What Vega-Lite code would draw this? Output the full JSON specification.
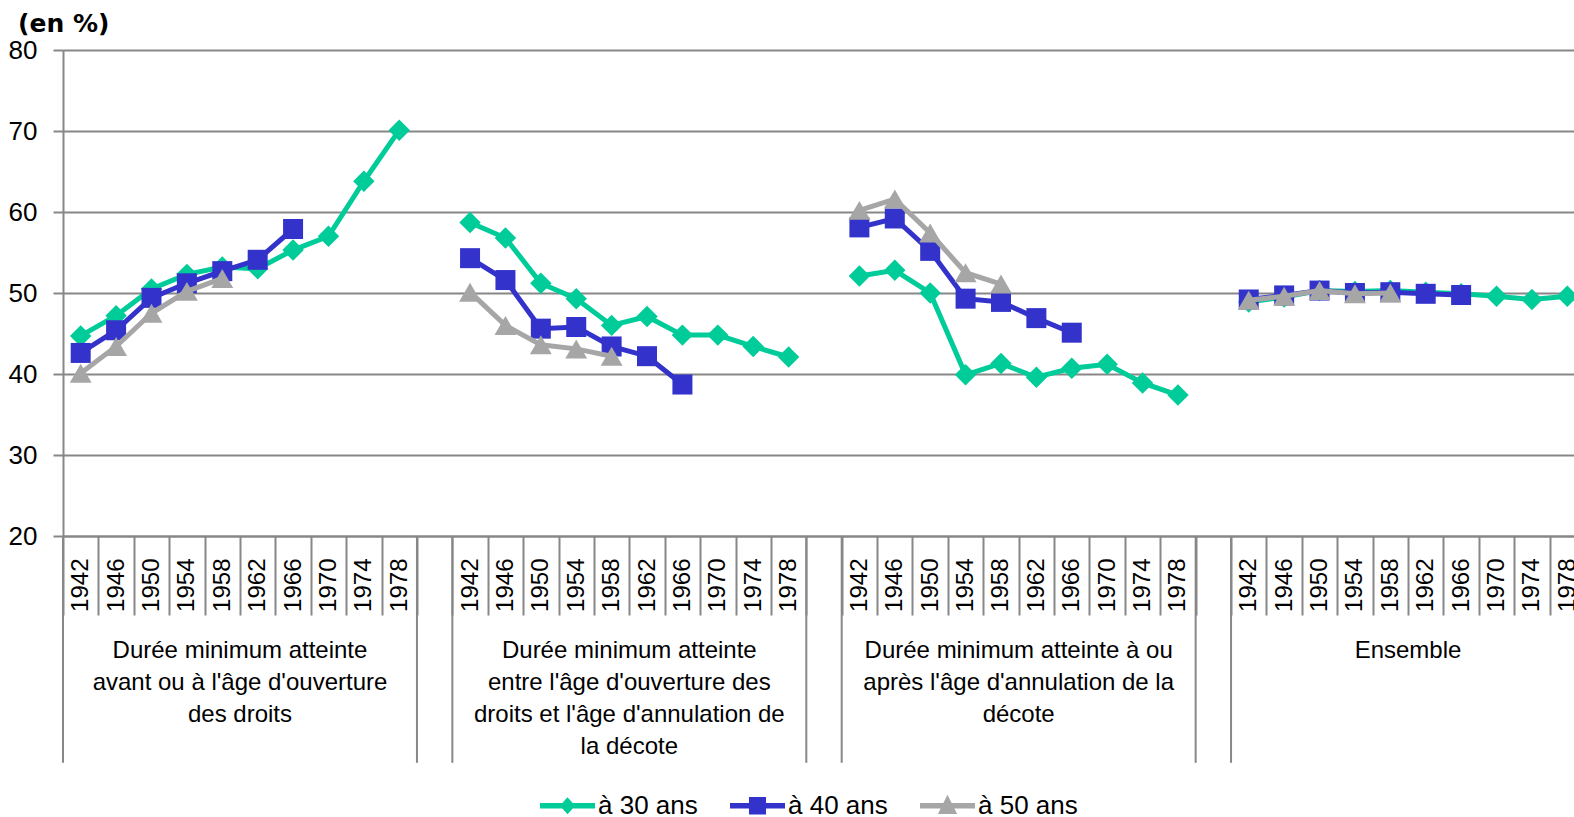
{
  "$schema": "https://vega.github.io/schema/vega-lite/v6.json",
  "width": 1511,
  "height": 486,
  "autosize": {"type": "none"},
  "padding": {"left": 63, "top": 50, "right": 0, "bottom": 281},
  "background": "white",
  "config": {"view": {"stroke": null}, "font": "Liberation Sans"},
  "title": {"text": "(en %)", "anchor": "start", "frame": "group", "dx": -45, "dy": 25, "offset": 5, "font": "DejaVu Sans", "fontSize": 25, "fontWeight": "bold", "color": "black", "baseline": "alphabetic"},
  "datasets": {
    "values": [
      {"cat":"A1942","group":"A","series":"à 30 ans","value":44.7},
      {"cat":"A1946","group":"A","series":"à 30 ans","value":47.2},
      {"cat":"A1950","group":"A","series":"à 30 ans","value":50.5},
      {"cat":"A1954","group":"A","series":"à 30 ans","value":52.3},
      {"cat":"A1958","group":"A","series":"à 30 ans","value":53.2},
      {"cat":"A1962","group":"A","series":"à 30 ans","value":53.0},
      {"cat":"A1966","group":"A","series":"à 30 ans","value":55.3},
      {"cat":"A1970","group":"A","series":"à 30 ans","value":57.0},
      {"cat":"A1974","group":"A","series":"à 30 ans","value":63.8},
      {"cat":"A1978","group":"A","series":"à 30 ans","value":70.1},
      {"cat":"A1942","group":"A","series":"à 40 ans","value":42.6},
      {"cat":"A1946","group":"A","series":"à 40 ans","value":45.4},
      {"cat":"A1950","group":"A","series":"à 40 ans","value":49.4},
      {"cat":"A1954","group":"A","series":"à 40 ans","value":51.2},
      {"cat":"A1958","group":"A","series":"à 40 ans","value":52.7},
      {"cat":"A1962","group":"A","series":"à 40 ans","value":54.1},
      {"cat":"A1966","group":"A","series":"à 40 ans","value":57.9},
      {"cat":"A1942","group":"A","series":"à 50 ans","value":40.1},
      {"cat":"A1946","group":"A","series":"à 50 ans","value":43.4},
      {"cat":"A1950","group":"A","series":"à 50 ans","value":47.5},
      {"cat":"A1954","group":"A","series":"à 50 ans","value":50.2},
      {"cat":"A1958","group":"A","series":"à 50 ans","value":51.8},
      {"cat":"B1942","group":"B","series":"à 30 ans","value":58.7},
      {"cat":"B1946","group":"B","series":"à 30 ans","value":56.8},
      {"cat":"B1950","group":"B","series":"à 30 ans","value":51.2},
      {"cat":"B1954","group":"B","series":"à 30 ans","value":49.3},
      {"cat":"B1958","group":"B","series":"à 30 ans","value":46.0},
      {"cat":"B1962","group":"B","series":"à 30 ans","value":47.1},
      {"cat":"B1966","group":"B","series":"à 30 ans","value":44.8},
      {"cat":"B1970","group":"B","series":"à 30 ans","value":44.8},
      {"cat":"B1974","group":"B","series":"à 30 ans","value":43.4},
      {"cat":"B1978","group":"B","series":"à 30 ans","value":42.1},
      {"cat":"B1942","group":"B","series":"à 40 ans","value":54.3},
      {"cat":"B1946","group":"B","series":"à 40 ans","value":51.6},
      {"cat":"B1950","group":"B","series":"à 40 ans","value":45.6},
      {"cat":"B1954","group":"B","series":"à 40 ans","value":45.8},
      {"cat":"B1958","group":"B","series":"à 40 ans","value":43.4},
      {"cat":"B1962","group":"B","series":"à 40 ans","value":42.2},
      {"cat":"B1966","group":"B","series":"à 40 ans","value":38.7},
      {"cat":"B1942","group":"B","series":"à 50 ans","value":50.1},
      {"cat":"B1946","group":"B","series":"à 50 ans","value":46.0},
      {"cat":"B1950","group":"B","series":"à 50 ans","value":43.6},
      {"cat":"B1954","group":"B","series":"à 50 ans","value":43.1},
      {"cat":"B1958","group":"B","series":"à 50 ans","value":42.2},
      {"cat":"C1942","group":"C","series":"à 30 ans","value":52.1},
      {"cat":"C1946","group":"C","series":"à 30 ans","value":52.8},
      {"cat":"C1950","group":"C","series":"à 30 ans","value":50.0},
      {"cat":"C1954","group":"C","series":"à 30 ans","value":39.9},
      {"cat":"C1958","group":"C","series":"à 30 ans","value":41.3},
      {"cat":"C1962","group":"C","series":"à 30 ans","value":39.6},
      {"cat":"C1966","group":"C","series":"à 30 ans","value":40.7},
      {"cat":"C1970","group":"C","series":"à 30 ans","value":41.2},
      {"cat":"C1974","group":"C","series":"à 30 ans","value":38.9},
      {"cat":"C1978","group":"C","series":"à 30 ans","value":37.4},
      {"cat":"C1942","group":"C","series":"à 40 ans","value":58.1},
      {"cat":"C1946","group":"C","series":"à 40 ans","value":59.2},
      {"cat":"C1950","group":"C","series":"à 40 ans","value":55.2},
      {"cat":"C1954","group":"C","series":"à 40 ans","value":49.3},
      {"cat":"C1958","group":"C","series":"à 40 ans","value":48.9},
      {"cat":"C1962","group":"C","series":"à 40 ans","value":46.9},
      {"cat":"C1966","group":"C","series":"à 40 ans","value":45.1},
      {"cat":"C1942","group":"C","series":"à 50 ans","value":60.2},
      {"cat":"C1946","group":"C","series":"à 50 ans","value":61.6},
      {"cat":"C1950","group":"C","series":"à 50 ans","value":57.4},
      {"cat":"C1954","group":"C","series":"à 50 ans","value":52.5},
      {"cat":"C1958","group":"C","series":"à 50 ans","value":51.1},
      {"cat":"D1942","group":"D","series":"à 30 ans","value":48.9},
      {"cat":"D1946","group":"D","series":"à 30 ans","value":49.5},
      {"cat":"D1950","group":"D","series":"à 30 ans","value":50.3},
      {"cat":"D1954","group":"D","series":"à 30 ans","value":50.2},
      {"cat":"D1958","group":"D","series":"à 30 ans","value":50.3},
      {"cat":"D1962","group":"D","series":"à 30 ans","value":50.1},
      {"cat":"D1966","group":"D","series":"à 30 ans","value":49.9},
      {"cat":"D1970","group":"D","series":"à 30 ans","value":49.6},
      {"cat":"D1974","group":"D","series":"à 30 ans","value":49.2},
      {"cat":"D1978","group":"D","series":"à 30 ans","value":49.6},
      {"cat":"D1942","group":"D","series":"à 40 ans","value":49.2},
      {"cat":"D1946","group":"D","series":"à 40 ans","value":49.7},
      {"cat":"D1950","group":"D","series":"à 40 ans","value":50.3},
      {"cat":"D1954","group":"D","series":"à 40 ans","value":50.0},
      {"cat":"D1958","group":"D","series":"à 40 ans","value":50.1},
      {"cat":"D1962","group":"D","series":"à 40 ans","value":49.9},
      {"cat":"D1966","group":"D","series":"à 40 ans","value":49.75},
      {"cat":"D1942","group":"D","series":"à 50 ans","value":49.1},
      {"cat":"D1946","group":"D","series":"à 50 ans","value":49.6},
      {"cat":"D1950","group":"D","series":"à 50 ans","value":50.3},
      {"cat":"D1954","group":"D","series":"à 50 ans","value":49.9},
      {"cat":"D1958","group":"D","series":"à 50 ans","value":50.0}
    ],
    "seps": [
      {"cat":"A1942"},{"cat":"gap1"},{"cat":"B1942"},{"cat":"gap2"},{"cat":"C1942"},{"cat":"gap3"},{"cat":"D1942"}
    ],
    "groups": [
      {"cat":"A1962","label":"Durée minimum atteinte\navant ou à l'âge d'ouverture\ndes droits"},
      {"cat":"B1962","label":"Durée minimum atteinte\nentre l'âge d'ouverture des\ndroits et l'âge d'annulation de\nla décote"},
      {"cat":"C1962","label":"Durée minimum atteinte à ou\naprès l'âge d'annulation de la\ndécote"},
      {"cat":"D1962","label":"Ensemble"}
    ]
  },
  "layer": [
    {
      "data": {"name": "seps"},
      "mark": {"type": "rule", "color": "#878787", "strokeWidth": 2},
      "encoding": {
        "x": {"field": "cat", "type": "nominal", "bandPosition": 0,
          "scale": {"type": "band", "range": [0, 1522], "paddingInner": 0, "paddingOuter": 0,
            "domain": ["A1942","A1946","A1950","A1954","A1958","A1962","A1966","A1970","A1974","A1978","gap1","B1942","B1946","B1950","B1954","B1958","B1962","B1966","B1970","B1974","B1978","gap2","C1942","C1946","C1950","C1954","C1958","C1962","C1966","C1970","C1974","C1978","gap3","D1942","D1946","D1950","D1954","D1958","D1962","D1966","D1970","D1974","D1978"]},
          "axis": {"title": null, "orient": "bottom", "labelExpr": "indexof(datum.label, 'gap') >= 0 ? '' : slice(datum.label, 1)", "labelAngle": 270, "labelAlign": "right", "labelBaseline": "middle", "labelFontSize": 24, "labelFont": "Liberation Sans", "labelColor": "black", "labelPadding": -57, "tickBand": "extent", "tickSize": 79, "tickColor": "#878787", "tickWidth": 2, "domainColor": "#878787", "domainWidth": 2, "grid": false, "labelOverlap": false, "labelBound": false, "labelFlush": false}},
        "y": {"datum": 20, "type": "quantitative", "scale": {"domain": [20, 80], "nice": false, "zero": false}},
        "y2": {"datum": -8}
      }
    },
    {
      "data": {"name": "groups"},
      "mark": {"type": "text", "align": "center", "baseline": "top", "lineBreak": "\n", "lineHeight": 32, "fontSize": 24, "font": "Liberation Sans", "color": "black"},
      "encoding": {
        "x": {"field": "cat", "type": "nominal", "bandPosition": 0,
          "scale": {"type": "band", "range": [0, 1522], "paddingInner": 0, "paddingOuter": 0,
            "domain": ["A1942","A1946","A1950","A1954","A1958","A1962","A1966","A1970","A1974","A1978","gap1","B1942","B1946","B1950","B1954","B1958","B1962","B1966","B1970","B1974","B1978","gap2","C1942","C1946","C1950","C1954","C1958","C1962","C1966","C1970","C1974","C1978","gap3","D1942","D1946","D1950","D1954","D1958","D1962","D1966","D1970","D1974","D1978"]}},
        "y": {"datum": 7.28, "type": "quantitative", "scale": {"domain": [20, 80], "nice": false, "zero": false}},
        "text": {"field": "label"}
      }
    },
    {
      "data": {"name": "values"},
      "transform": [{"filter": "datum.series === 'à 30 ans'"}],
      "mark": {"type": "line", "color": "#00CC99", "strokeWidth": 5, "point": {"shape": "diamond", "size": 460, "filled": true, "color": "#00CC99", "opacity": 1}},
      "encoding": {
        "x": {"field": "cat", "type": "nominal",
          "scale": {"type": "band", "range": [0, 1522], "paddingInner": 0, "paddingOuter": 0,
            "domain": ["A1942","A1946","A1950","A1954","A1958","A1962","A1966","A1970","A1974","A1978","gap1","B1942","B1946","B1950","B1954","B1958","B1962","B1966","B1970","B1974","B1978","gap2","C1942","C1946","C1950","C1954","C1958","C1962","C1966","C1970","C1974","C1978","gap3","D1942","D1946","D1950","D1954","D1958","D1962","D1966","D1970","D1974","D1978"]}},
        "y": {"field": "value", "type": "quantitative", "scale": {"domain": [20, 80], "nice": false, "zero": false},
          "axis": {"title": null, "values": [20, 30, 40, 50, 60, 70, 80], "grid": true, "gridColor": "#878787", "gridWidth": 2, "domainColor": "#878787", "domainWidth": 2, "tickColor": "#878787", "tickWidth": 2, "tickSize": 10, "labelFontSize": 26, "labelFont": "Liberation Sans", "labelColor": "black", "labelPadding": 16}},
        "detail": {"field": "group"}
      }
    },
    {
      "data": {"name": "values"},
      "transform": [{"filter": "datum.series === 'à 40 ans'"}],
      "mark": {"type": "line", "color": "#3333CC", "strokeWidth": 5, "point": {"shape": "square", "size": 400, "filled": true, "color": "#3333CC", "opacity": 1}},
      "encoding": {
        "x": {"field": "cat", "type": "nominal"},
        "y": {"field": "value", "type": "quantitative"},
        "detail": {"field": "group"}
      }
    },
    {
      "data": {"name": "values"},
      "transform": [{"filter": "datum.series === 'à 50 ans'"}],
      "mark": {"type": "line", "color": "#A6A6A6", "strokeWidth": 5, "point": {"shape": "triangle-up", "size": 480, "filled": true, "color": "#A6A6A6", "opacity": 1}},
      "encoding": {
        "x": {"field": "cat", "type": "nominal"},
        "y": {"field": "value", "type": "quantitative"},
        "detail": {"field": "group"}
      }
    },
    {
      "data": {"name": "values"},
      "transform": [{"filter": "datum.value > 1000"}],
      "mark": {"type": "point", "filled": true, "opacity": 1},
      "encoding": {
        "color": {"field": "series", "type": "nominal",
          "scale": {"domain": ["à 30 ans", "à 40 ans", "à 50 ans"], "range": ["#00CC99", "#3333CC", "#A6A6A6"]},
          "legend": {"title": null, "orient": "none", "legendX": 477, "legendY": 728, "direction": "horizontal", "symbolSize": 3025, "symbolStrokeWidth": 0, "symbolOpacity": 1, "labelFontSize": 26, "labelFont": "Liberation Sans", "labelColor": "black", "labelOffset": 3, "columnPadding": 32, "padding": 0, "labelLimit": 300}},
        "shape": {"field": "series", "type": "nominal",
          "scale": {"domain": ["à 30 ans", "à 40 ans", "à 50 ans"], "range": ["M-1,-0.1H1V0.1H-1Z M0,-0.31L0.28,0L0,0.31L-0.28,0Z", "M-1,-0.1H1V0.1H-1Z M-0.31,-0.32H0.31V0.32H-0.31Z", "M-1,-0.1H1V0.1H-1Z M0,-0.4L0.35,0.3L-0.35,0.3Z"]},
          "legend": {"title": null, "orient": "none", "legendX": 477, "legendY": 728, "direction": "horizontal", "symbolSize": 3025, "symbolStrokeWidth": 0, "symbolOpacity": 1, "labelFontSize": 26, "labelFont": "Liberation Sans", "labelColor": "black", "labelOffset": 3, "columnPadding": 32, "padding": 0, "labelLimit": 300}}
      }
    }
  ]
}
